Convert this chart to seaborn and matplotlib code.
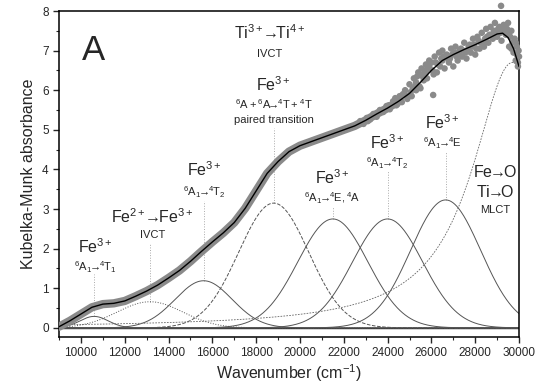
import numpy as np
import pandas as pd
import seaborn as sns
import matplotlib
matplotlib.use('Agg')
import matplotlib.pyplot as plt
from matplotlib.ticker import MultipleLocator

# fitted spectrum
fit_w = [9000, 9500, 10000, 10500, 11000, 11500, 12000, 12500, 13000, 13500,
         14000, 14500, 15000, 15500, 16000, 16500, 17000, 17500, 18000, 18500,
         19000, 19500, 20000, 20500, 21000, 21500, 22000, 22500, 23000, 23500,
         24000, 24500, 25000, 25500, 26000, 26500, 27000, 27500, 28000, 28500,
         29000, 29250, 29500, 29750, 30000]
fit_A = [0.03, 0.18, 0.35, 0.52, 0.60, 0.62, 0.68, 0.80, 0.93, 1.08,
         1.26, 1.45, 1.68, 1.93, 2.17, 2.40, 2.66, 3.02, 3.46, 3.90,
         4.20, 4.45, 4.60, 4.70, 4.80, 4.90, 5.00, 5.10, 5.24, 5.40,
         5.55, 5.72, 5.92, 6.20, 6.50, 6.75, 6.90, 7.03, 7.15, 7.28,
         7.42, 7.44, 7.33, 7.05, 6.60]

# scattered measured points at high wavenumber
noisy_w = [22600, 22750, 22900, 23050, 23200, 23350, 23500, 23650, 23800, 23950,
           24100, 24250, 24400, 24550, 24650, 24800, 24900, 25000, 25100, 25200,
           25300, 25400, 25450, 25550, 25650, 25750, 25800, 25900, 26080, 26050,
           26150, 26250, 26350, 26400, 26500, 26600, 26700, 26800, 26900, 27000,
           27100, 27200, 27300, 27400, 27500, 27600, 27700, 27800, 27900, 28000,
           28100, 28200, 28300, 28400, 28500, 28600, 28700, 28800, 28900, 29000,
           29100, 29180, 29200, 29300, 29400, 29500, 29550, 29650, 29750, 29800,
           29850, 29900, 29950, 30000,
           24350, 24700, 25050, 25250, 25350, 25600, 25700, 25850, 26000, 26200,
           26450, 26550, 26750, 26950, 27050, 27250, 27450, 27650, 27850, 28050,
           28250, 28450, 28650, 28850, 29050, 29250, 29450, 29600, 29700, 29900,
           24450, 24600, 24750, 24950, 25150, 25300, 25500, 25600, 25750, 25900,
           26100, 26300, 26500, 26650, 26850, 27150, 27350, 27550, 27750, 27950,
           28150, 28350, 28550, 28750, 28950, 29150, 29350, 29500, 29650, 29850,
           29980, 29950, 23100, 23450, 23750, 24050]
noisy_A = [5.12, 5.22, 5.15, 5.30, 5.26, 5.40, 5.33, 5.50, 5.45, 5.60,
           5.52, 5.72, 5.62, 5.85, 5.70, 6.00, 5.78, 6.15, 5.85, 6.30,
           6.00, 6.45, 6.10, 6.55, 6.25, 6.65, 6.30, 6.75, 5.88, 6.50,
           6.85, 6.45, 6.95, 6.60, 7.00, 6.55, 6.90, 6.70, 7.05, 6.60,
           7.10, 6.75, 7.00, 6.85, 7.20, 6.80, 7.10, 6.95, 7.30, 6.90,
           7.35, 7.05, 7.45, 7.10, 7.55, 7.20, 7.60, 7.30, 7.70, 7.35,
           7.60, 8.13, 7.25, 7.65, 7.40, 7.70, 7.10, 7.50, 6.95, 7.30,
           6.75, 7.10, 6.70, 6.85,
           5.80, 5.90, 5.95, 6.10, 6.35, 6.40, 6.50, 6.55, 6.70, 6.70,
           6.80, 6.85, 6.80, 6.90, 6.95, 6.95, 7.00, 7.00, 7.10, 7.05,
           7.20, 7.30, 7.40, 7.50, 7.55, 7.50, 7.55, 7.35, 7.20, 6.90,
           5.65, 5.75, 5.90, 5.85, 6.05, 6.20, 6.05, 6.35, 6.45, 6.60,
           6.40, 6.65, 6.75, 6.85, 6.80, 6.85, 7.05, 6.95, 7.15, 7.15,
           7.25, 7.20, 7.35, 7.40, 7.45, 7.45, 7.60, 7.45, 7.05, 7.20,
           7.00, 6.60, 5.22, 5.36, 5.50, 5.62]

# fitted gaussian bands: centre (cm-1), height, sigma
band_center = [10600, 13150, 15600, 18800, 21500, 24000, 26650]
band_height = [0.29, 0.66, 1.19, 3.15, 2.75, 2.75, 3.23]
band_sigma = [650, 1500, 1300, 1600, 1600, 1600, 1600]
band_style = ['-', ':', '-', '--', '-', '-', '-']
# charge transfer edge (lorentzian): centre, height, half width
mlct_center, mlct_height, mlct_hwhm = 29700, 6.7, 2250

sns.set_style('ticks')
plt.rcParams['font.family'] = ['Liberation Sans', 'DejaVu Sans']
plt.rcParams['mathtext.fontset'] = 'custom'
plt.rcParams['mathtext.rm'] = 'Liberation Sans'
plt.rcParams['mathtext.it'] = 'Liberation Sans'

fig = plt.figure(figsize=(5.37, 3.89), dpi=100)
ax = fig.add_axes([0.11, 0.1337, 0.8565, 0.838])

w = np.linspace(9000, 30000, 700)
ax.axhline(0, color='#222222', lw=1.0, zorder=1)
for c, h, s, ls in zip(band_center, band_height, band_sigma, band_style):
    g = h * np.exp(-(w - c) ** 2 / (2 * s ** 2))
    sns.lineplot(x=w, y=g, color='#555555', lw=0.7, linestyle=ls, ax=ax, zorder=2)
mlct = mlct_height / (1 + ((w - mlct_center) / mlct_hwhm) ** 2)
sns.lineplot(x=w, y=mlct, color='#666666', lw=0.6, linestyle=(0, (2, 1.5)), ax=ax, zorder=2)

# dense measured band (low wavenumber) and scattered points
df = pd.DataFrame({'w': fit_w, 'A': fit_A})
dense = df[df['w'] <= 24500]
sns.lineplot(data=dense, x='w', y='A', color='#8a8a8a', lw=6, ax=ax, zorder=3,
             solid_capstyle='round')
sns.scatterplot(x=noisy_w, y=noisy_A, color='#8a8a8a', s=22, edgecolor='none',
                ax=ax, zorder=3, clip_on=False)
sns.lineplot(data=df, x='w', y='A', color='black', lw=1.0, ax=ax, zorder=4)

# guide lines from band maxima to their labels
guide_top = [1.35, 2.15, 3.2, 5.05, 3.05, 3.95, 4.45]
for c, h, t in zip(band_center, band_height, guide_top):
    ax.plot([c, c], [h, t], color='#aaaaaa', lw=0.7, ls=':', zorder=1)


def m(s):
    # negative thin spaces keep the arrows tight like the original
    return '$\\mathregular{' + s.replace('→', '\\!{→}\\!') + '}$'


big = 11.5
small = 8
labels = [
    (10640, 2.05, m('Fe^{3+}'), big),
    (10640, 1.52, m('{}^{6}A_{1}→{}^{4}T_{1}'), small),
    (13250, 2.80, m('Fe^{2+}→Fe^{3+}'), big),
    (13250, 2.35, 'IVCT', small),
    (15620, 3.99, m('Fe^{3+}'), big),
    (15620, 3.43, m('{}^{6}A_{1}→{}^{4}T_{2}'), small),
    (18800, 6.14, m('Fe^{3+}'), big),
    (18800, 5.66, m('{}^{6}A+{}^{6}A→{}^{4}T+{}^{4}T'), small),
    (18800, 5.25, 'paired transition', small),
    (18630, 7.45, m('Ti^{3+}→Ti^{4+}'), big),
    (18630, 6.92, 'IVCT', small),
    (21480, 3.79, m('Fe^{3+}'), big),
    (21480, 3.28, m('{}^{6}A_{1}→{}^{4}E,{}^{4}A'), small),
    (23980, 4.67, m('Fe^{3+}'), big),
    (23980, 4.17, m('{}^{6}A_{1}→{}^{4}T_{2}'), small),
    (26500, 5.18, m('Fe^{3+}'), big),
    (26500, 4.67, m('{}^{6}A_{1}→{}^{4}E'), small),
    (28900, 3.94, m('Fe→O'), big),
    (28900, 3.43, m('Ti→O'), big),
    (28900, 2.98, 'MLCT', small),
]
for x, y, s, fs in labels:
    ax.text(x, y, s, fontsize=fs, ha='center', va='center', zorder=5)
ax.text(10550, 7.0, 'A', fontsize=25, ha='center', va='center')

ax.set_xlim(9000, 30000)
ax.set_ylim(-0.23, 8)
ax.xaxis.set_minor_locator(MultipleLocator(1000))
ax.yaxis.set_major_locator(MultipleLocator(1))
ax.yaxis.set_minor_locator(MultipleLocator(0.5))
ax.set_xticks(range(10000, 30001, 2000))
ax.tick_params(which='major', direction='out', length=4, width=1, labelsize=8.5)
ax.tick_params(which='minor', direction='out', length=2.5, width=0.8)
for sp in ax.spines.values():
    sp.set_linewidth(1.1)
    sp.set_color('black')
ax.set_xlabel(m('Wavenumber\\ (cm^{-1})'), fontsize=11.5, labelpad=2)
ax.set_ylabel('Kubelka-Munk absorbance', fontsize=11.5, labelpad=4)

fig.savefig('out.png', dpi=100)
